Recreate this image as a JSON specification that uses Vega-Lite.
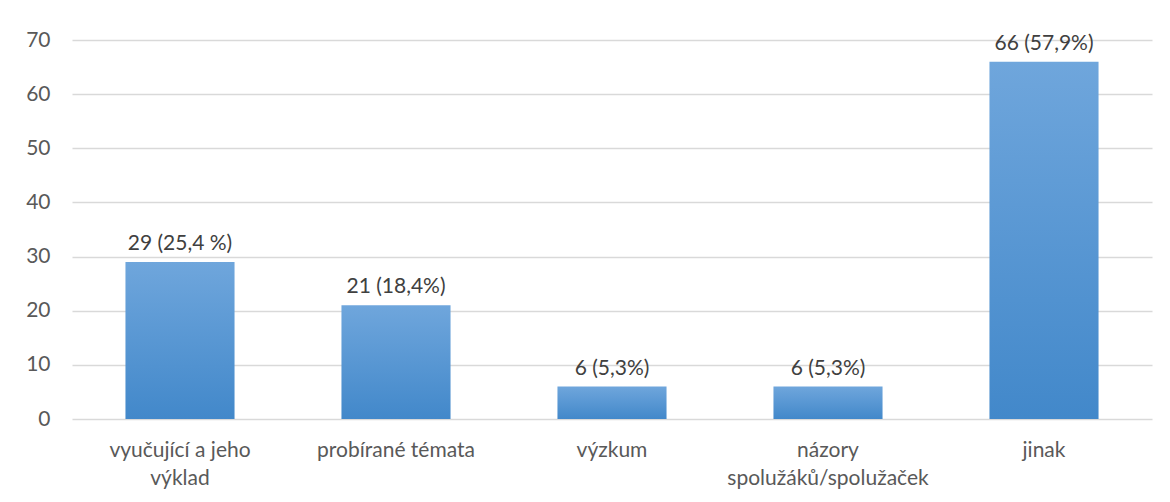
{
  "$schema": "https://vega.github.io/schema/vega-lite/v6.json",
  "width": 1080,
  "height": 379,
  "autosize": {"type": "none"},
  "padding": {"left": 72, "top": 40, "right": 18, "bottom": 83},
  "background": "white",
  "data": {
    "values": [
      {"kategorie": "vyučující a jeho výklad", "pocet": 29, "popisek": "29 (25,4 %)"},
      {"kategorie": "probírané témata", "pocet": 21, "popisek": "21 (18,4%)"},
      {"kategorie": "výzkum", "pocet": 6, "popisek": "6 (5,3%)"},
      {"kategorie": "názory spolužáků/spolužaček", "pocet": 6, "popisek": "6 (5,3%)"},
      {"kategorie": "jinak", "pocet": 66, "popisek": "66 (57,9%)"}
    ]
  },
  "encoding": {
    "x": {
      "field": "kategorie", "type": "nominal", "sort": null,
      "scale": {"paddingInner": 0.495, "paddingOuter": 0.2475},
      "axis": {
        "title": null, "labelAngle": 0, "domain": false, "ticks": false,
        "labelPadding": 20, "labelLineHeight": 28, "labelLimit": 400,
        "labelFont": "Lato", "labelFontSize": 21, "labelColor": "#595959",
        "labelExpr": "datum.value == 'vyučující a jeho výklad' ? ['vyučující a jeho', 'výklad'] : datum.value == 'názory spolužáků/spolužaček' ? ['názory', 'spolužáků/spolužaček'] : datum.value"
      }
    },
    "y": {
      "field": "pocet", "type": "quantitative",
      "scale": {"domain": [0, 70], "nice": false},
      "axis": {
        "title": null, "values": [0, 10, 20, 30, 40, 50, 60, 70],
        "domain": false, "ticks": false, "labelPadding": 22,
        "labelFont": "Lato", "labelFontSize": 21, "labelColor": "#595959",
        "gridColor": "#d9d9d9", "gridWidth": 1.5
      }
    }
  },
  "layer": [
    {
      "mark": {
        "type": "bar",
        "fill": {
          "gradient": "linear", "x1": 0, "y1": 0, "x2": 0, "y2": 1,
          "stops": [
            {"offset": 0, "color": "#6fa6dc"},
            {"offset": 1, "color": "#4288ca"}
          ]
        }
      }
    },
    {
      "mark": {"type": "text", "baseline": "bottom", "dy": -8, "font": "Lato", "fontSize": 21, "color": "#404040"},
      "encoding": {"text": {"field": "popisek"}}
    }
  ],
  "config": {"view": {"stroke": null}}
}
